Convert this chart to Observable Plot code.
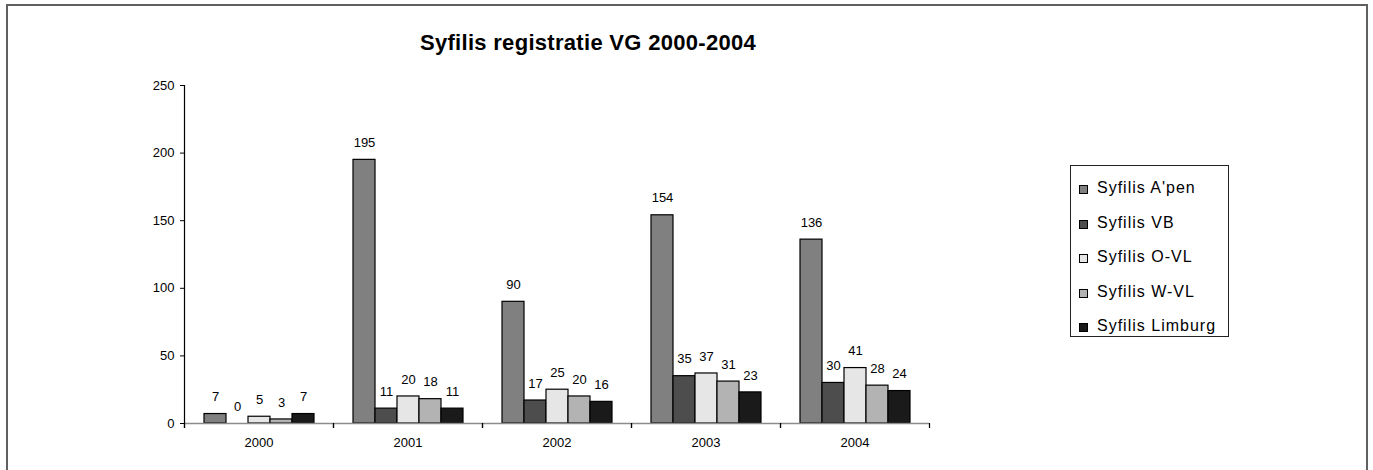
<!DOCTYPE html>
<html>
<head>
<meta charset="utf-8">
<script src="https://cdn.jsdelivr.net/npm/d3@7"></script>
<script src="https://cdn.jsdelivr.net/npm/@observablehq/plot@0.6"></script>
<style>
  html, body { margin: 0; padding: 0; background: #fff; }
  #wrap { position: relative; width: 1373px; height: 470px; overflow: hidden; background: #fff; font-family: "Liberation Sans", Arial, sans-serif; }
  #border { position: absolute; left: 6px; top: 4px; width: 1358px; height: 520px; border: 2px solid #606060; box-sizing: content-box; }
  #title { position: absolute; left: 0; width: 1176px; top: 30px; text-align: center; font-weight: bold; font-size: 22px; letter-spacing: 0.3px; color: #000; }
  #chart { position: absolute; left: 0; top: 0; }
  #legend { position: absolute; left: 1070px; top: 165px; width: 159px; height: 172px; border: 1px solid #222; box-sizing: border-box; padding-top: 5px; }
  .item { display: flex; align-items: center; height: 34.5px; font-size: 16px; letter-spacing: 1px; color: #000; }
  .sw { width: 7px; height: 7px; border: 1px solid #000; margin-left: 8px; margin-right: 9px; margin-top: 3px; }
</style>
</head>
<body>
<div id="wrap">
  <div id="border"></div>
  <div id="chart"></div>
  <div id="title">Syfilis registratie VG 2000-2004</div>
  <div id="legend"></div>
</div>
<script>
const years = ["2000", "2001", "2002", "2003", "2004"];
const series = ["Syfilis A'pen", "Syfilis VB", "Syfilis O-VL", "Syfilis W-VL", "Syfilis Limburg"];
const apen = [7, 195, 90, 154, 136];
const vb = [0, 11, 17, 35, 30];
const ovl = [5, 20, 25, 37, 41];
const wvl = [3, 18, 20, 31, 28];
const limburg = [7, 11, 16, 23, 24];
const yTicks = [0, 50, 100, 150, 200, 250];
const colors = ["#808080", "#4d4d4d", "#e6e6e6", "#b3b3b3", "#1a1a1a"];

const valuesBySeries = [apen, vb, ovl, wvl, limburg];
const data = [];
years.forEach((yr, i) => {
  series.forEach((s, j) => data.push({year: yr, series: s, value: valuesBySeries[j][i]}));
});

// boundary tick marks below the baseline, drawn at facet edges
function edgeTicks(index, scales, values, dims) {
  const g = d3.create("svg:g");
  const y0 = scales.y(0);
  const xl = dims.marginLeft, xr = dims.width - dims.marginRight;
  for (const x of [xl, xr]) {
    g.append("line").attr("x1", x + 0.5).attr("x2", x + 0.5).attr("y1", y0).attr("y2", y0 + 5)
      .attr("stroke", "#000").attr("stroke-width", 1.2);
  }
  return g.node();
}
function yAxisLine(index, scales, values, dims) {
  const g = d3.create("svg:g");
  const x = dims.marginLeft + 0.5;
  g.append("line").attr("x1", x).attr("x2", x)
    .attr("y1", scales.y(yTicks[yTicks.length - 1])).attr("y2", scales.y(0) + 5)
    .attr("stroke", "#000").attr("stroke-width", 1.2);
  return g.node();
}

const chart = Plot.plot({
  width: 1373,
  height: 470,
  marginLeft: 183,
  marginRight: 444,
  marginTop: 85,
  marginBottom: 47,
  style: {fontFamily: "'Liberation Sans', Arial, sans-serif", fontSize: "13px", background: "transparent", overflow: "visible"},
  fx: {domain: years, padding: 0, label: null, axis: null},
  x: {domain: series, paddingInner: 0, paddingOuter: 0.74, axis: null},
  y: {domain: [0, 250], axis: null},
  color: {domain: series, range: colors},
  marks: [
    Plot.barY(data, {fx: "year", x: "series", y: "value", fill: "series", stroke: "#000", strokeWidth: 1.2}),
    Plot.ruleY([0], {stroke: "#8c8c8c", strokeWidth: 1.5}),
    Plot.ruleY(years, {fx: d => d, y: () => 0, render: edgeTicks}),
    Plot.ruleY([years[0]], {fx: d => d, y: () => 0, render: yAxisLine}),
    Plot.text(data, {fx: "year", x: "series", y: "value", text: d => String(d.value), dy: -17, fill: "#000", fontSize: 13}),
    Plot.axisY(yTicks, {anchor: "left", tickSize: 4, tickPadding: 6, label: null, fontSize: 13, stroke: "#000"}),
    Plot.axisFx({anchor: "bottom", tickSize: 0, tickPadding: 14, label: null, fontSize: 13})
  ]
});
document.getElementById("chart").appendChild(chart);

const legend = document.getElementById("legend");
series.forEach((s, i) => {
  const item = document.createElement("div");
  item.className = "item";
  const sw = document.createElement("span");
  sw.className = "sw";
  sw.style.background = colors[i];
  const label = document.createElement("span");
  label.textContent = s;
  item.appendChild(sw);
  item.appendChild(label);
  legend.appendChild(item);
});
</script>
</body>
</html>
